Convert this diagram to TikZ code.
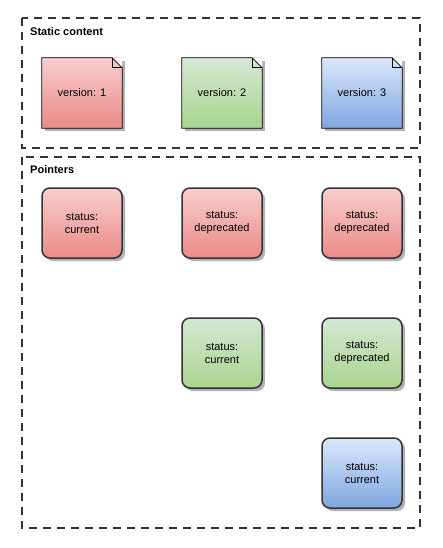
\documentclass[tikz,border=0pt]{standalone}
\usepackage{fontspec}
\setmainfont{Liberation Sans}
\usetikzlibrary{shadows}
\definecolor{redtop}{HTML}{F8CECC}
\definecolor{redbot}{HTML}{EA8A88}
\definecolor{greentop}{HTML}{D5E8D4}
\definecolor{greenbot}{HTML}{A8D48E}
\definecolor{bluetop}{HTML}{DAE8FC}
\definecolor{bluebot}{HTML}{7EA6E0}
\definecolor{linegray}{HTML}{333333}
\tikzstyle{group}=[draw=linegray, line width=1.3pt, dash pattern=on 8pt off 6pt]
\tikzstyle{grouplabel}=[anchor=north west, inner sep=0pt, font=\fontsize{11}{13}\selectfont\bfseries]
\tikzstyle{doc}=[rectangle, minimum width=80pt, minimum height=70pt, inner sep=0pt
,font=\fontsize{11}{13}\selectfont
,drop shadow={shadow xshift=3pt, shadow yshift=-3pt, fill=black!30, opacity=1}
]
\tikzstyle{status}=[rectangle, rounded corners=8pt, draw=linegray, line width=1.5pt
,minimum width=80pt, minimum height=70pt, inner sep=0pt, align=center
,font=\fontsize{11}{13}\selectfont
,drop shadow={shadow xshift=3pt, shadow yshift=-3pt, fill=black!30, opacity=1}
]
\tikzstyle{red box}=[top color=redtop, bottom color=redbot]
\tikzstyle{green box}=[top color=greentop, bottom color=greenbot]
\tikzstyle{blue box}=[top color=bluetop, bottom color=bluebot]

\begin{document}
\begin{tikzpicture}[x=1pt, y=-1pt]
    \useasboundingbox[fill=white] (0,0) rectangle (442,548);
    % The two dashed groups
    \draw[group] (22,18) rectangle (420,148);
    \draw[group] (22,157) rectangle (420,528);
    \node[grouplabel] (static label) at (30,27) {Static content};
    \node[grouplabel] (pointers label) at (30,165) {Pointers};

    % Static content: one note per version
    \foreach \pos/\name/\col/\num in {{(82,93)/v1/red/1}, {(222,93)/v2/green/2}, {(362,93)/v3/blue/3}}
    {
        \node[doc, \col\space box] (\name) at \pos {version: \num};
        \fill[white] ([xshift=-10pt]\name.north east) -- (\name.north east) -- ([yshift=-10pt]\name.north east) -- cycle;
        \draw[black, line width=0.8pt] (\name.north west) -- ([xshift=-10pt]\name.north east) -- ([yshift=-10pt]\name.north east)
            -- (\name.south east) -- (\name.south west) -- cycle;
        \draw[black, line width=0.8pt] ([xshift=-10pt]\name.north east) -- ([xshift=-10pt,yshift=-10pt]\name.north east)
            -- ([yshift=-10pt]\name.north east);
    }

    % Pointers
    \foreach \pos/\name/\col/\state in {{(82,223)/p11/red/current}, {(222,223)/p21/red/deprecated}, {(362,223)/p31/red/deprecated},
        {(222,353)/p22/green/current}, {(362,353)/p32/green/deprecated}, {(362,473)/p33/blue/current}}
        \node[status, \col\space box] (\name) at \pos {status:\\\state};
\end{tikzpicture}
\end{document}
